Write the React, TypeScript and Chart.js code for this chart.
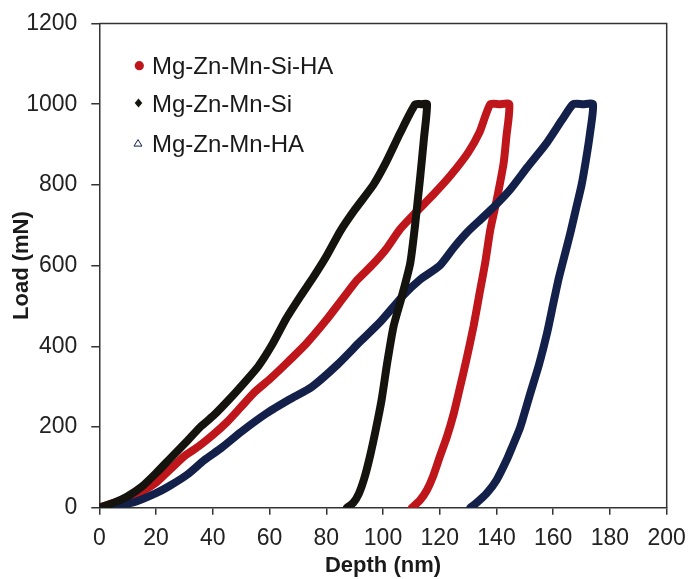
import React, { useEffect, useRef } from "react";
import { Chart, registerables } from "chart.js";

Chart.register(...registerables);

// X tick range / Y tick range
const xTicks = [0, 20, 40, 60, 80, 100, 120, 140, 160, 180, 200];
const yTicks = [0, 200, 400, 600, 800, 1000, 1200];

const seriesNames = ["Mg-Zn-Mn-Si-HA", "Mg-Zn-Mn-Si", "Mg-Zn-Mn-HA"];

// Mg-Zn-Mn-Si (black)
const siDepth = [0, 5, 9.7, 15, 20.2, 25, 30.8, 35.6, 40.2, 46, 52, 56, 61, 66, 71, 75.5, 80.2, 84.9, 90, 96.6, 101, 106, 111.4,
  113.5, 115.5,
  114.5, 113, 111.3, 109.6, 106.5, 103.7, 101.5, 99.5, 97.5, 95.5, 93.5, 91.5, 89.5, 87.3];
const siLoad = [0, 12, 27, 52, 87, 122, 164, 200, 228, 270, 317, 350, 405, 470, 525, 572, 625, 685, 738, 800, 855, 928, 1000,
  1000, 1000,
  920, 812, 700, 606, 520, 449, 360, 267, 195, 130, 75, 35, 12, 0];

// Mg-Zn-Mn-Si-HA (red)
const siHaDepth = [0, 5, 10, 15, 20, 25, 30, 35, 40, 45, 50, 55, 60, 66, 73, 80, 86, 91, 96, 101, 106, 112, 118, 124, 130, 134, 137.8,
  141, 144.5,
  143.5, 142.5, 140, 137.8, 136, 134, 131.9, 129.5, 127.2, 125, 122.5, 120.2, 117.5, 115.5, 113, 110.2];
const siHaLoad = [0, 12, 24, 40, 62, 95, 128, 152, 180, 212, 250, 288, 318, 358, 407, 465, 520, 565, 600, 640, 690, 735, 778, 825, 880, 930, 1000,
  1000, 1000,
  920, 853, 760, 688, 606, 530, 449, 370, 300, 235, 175, 130, 75, 44, 18, 0];

// Mg-Zn-Mn-HA (navy)
const haDepth = [0, 5, 12, 20, 25, 31, 37, 43, 50, 59, 67, 75, 84, 92, 99, 107, 113, 120, 125, 130, 135, 140, 145, 151, 157.8, 163, 167,
  170.5, 174,
  173, 171.5, 170, 168, 166, 164, 162, 160, 157.8, 155, 151.9, 148.4, 145.5, 143.7, 140, 136.6, 133, 130.8];
const haLoad = [0, 5, 13, 36, 55, 82, 118, 148, 188, 234, 268, 300, 355, 412, 460, 525, 565, 600, 645, 685, 718, 752, 790, 845, 905, 960, 1000,
  1000, 1000,
  930, 860, 800, 740, 680, 625, 570, 505, 432, 355, 283, 200, 150, 120, 68, 36, 12, 0];

const RED = "#BF161B";
const BLACK = "#15130E";
const NAVY = "#13214A";

const toPoints = (xs: number[], ys: number[]) => xs.map((x, i) => ({ x, y: ys[i] }));

const framePlugin = {
  id: "frame",
  afterDraw(chart: any) {
    const { ctx, chartArea } = chart;
    ctx.save();
    ctx.strokeStyle = "#333";
    ctx.lineWidth = 1.5;
    ctx.beginPath();
    ctx.moveTo(chartArea.left, chartArea.top);
    ctx.lineTo(chartArea.right, chartArea.top);
    ctx.lineTo(chartArea.right, chartArea.bottom);
    ctx.stroke();
    ctx.restore();
  },
};

const legendPlugin = {
  id: "customLegend",
  afterDraw(chart: any) {
    const { ctx } = chart;
    ctx.save();
    const textX = 152;
    const markerX = 138.5;
    const rows = [
      { y: 74, name: seriesNames[0], kind: "circle" },
      { y: 111.7, name: seriesNames[1], kind: "diamond" },
      { y: 151.7, name: seriesNames[2], kind: "triangle" },
    ];
    ctx.font = "24px 'Liberation Sans', Arial, sans-serif";
    ctx.textBaseline = "alphabetic";
    ctx.textAlign = "left";
    for (const r of rows) {
      const cy = r.y - 8.6;
      ctx.fillStyle = "#1a1a1a";
      ctx.fillText(r.name, textX, r.y);
      if (r.kind === "circle") {
        ctx.fillStyle = RED;
        ctx.beginPath();
        ctx.arc(markerX + 0.8, cy + 0.3, 4.6, 0, Math.PI * 2);
        ctx.fill();
      } else if (r.kind === "diamond") {
        ctx.fillStyle = BLACK;
        ctx.beginPath();
        ctx.moveTo(markerX, cy - 4.5);
        ctx.lineTo(markerX + 3.8, cy);
        ctx.lineTo(markerX, cy + 4.5);
        ctx.lineTo(markerX - 3.8, cy);
        ctx.closePath();
        ctx.fill();
      } else {
        ctx.strokeStyle = NAVY;
        ctx.lineWidth = 1;
        ctx.beginPath();
        ctx.moveTo(markerX - 0.5, cy - 3.5);
        ctx.lineTo(markerX + 3.5, cy + 3);
        ctx.lineTo(markerX - 4.5, cy + 3);
        ctx.closePath();
        ctx.stroke();
      }
    }
    ctx.restore();
  },
};

const clearPadding = (s: any) => {
  s.paddingTop = 0;
  s.paddingBottom = 0;
  s.paddingLeft = 0;
  s.paddingRight = 0;
};

export default function App() {
  const ref = useRef<HTMLCanvasElement | null>(null);

  useEffect(() => {
    if (!ref.current) return;
    const tickFont = { family: "'Liberation Sans', Arial, sans-serif", size: 23 };
    const titleFont = { family: "'Liberation Sans', Arial, sans-serif", size: 22, weight: "bold" as const };
    const lineCommon = {
      pointRadius: 0,
      borderWidth: 8,
      tension: 0.2,
      borderJoinStyle: "round" as const,
      borderCapStyle: "round" as const,
      fill: false,
    };
    const chart = new Chart(ref.current, {
      type: "line",
      data: {
        datasets: [
          { label: seriesNames[1], data: toPoints(siDepth, siLoad), borderColor: BLACK, ...lineCommon },
          { label: seriesNames[2], data: toPoints(haDepth, haLoad), borderColor: NAVY, ...lineCommon },
          { label: seriesNames[0], data: toPoints(siHaDepth, siHaLoad), borderColor: RED, ...lineCommon },
        ],
      },
      options: {
        responsive: false,
        animation: false,
        devicePixelRatio: 1,
        layout: { padding: { left: 0, right: 23.3, top: 23.5, bottom: 0 } },
        plugins: { legend: { display: false }, tooltip: { enabled: false } },
        scales: {
          x: {
            type: "linear",
            min: 0,
            max: 200,
            afterBuildTicks: (s: any) => { s.ticks = xTicks.map((v) => ({ value: v })); },
            afterFit: (s: any) => { s.height = 71.3; clearPadding(s); },
            ticks: { font: tickFont, color: "#222", padding: 10, maxRotation: 0, callback: (v: any) => String(v) },
            grid: { display: true, drawOnChartArea: false, drawTicks: true, tickLength: 7, color: "#333", lineWidth: 1.5 },
            border: { display: true, color: "#333", width: 1.5 },
            title: { display: true, text: "Depth (nm)", font: titleFont, color: "#1a1a1a", padding: { top: 0, bottom: 0 } },
          },
          y: {
            type: "linear",
            min: 0,
            max: 1200,
            afterBuildTicks: (s: any) => { s.ticks = yTicks.map((v) => ({ value: v })); },
            afterFit: (s: any) => { s.width = 99.3; clearPadding(s); },
            ticks: { font: tickFont, color: "#222", padding: 14, callback: (v: any) => String(v) },
            grid: { display: true, drawOnChartArea: false, drawTicks: true, tickLength: 8, color: "#333", lineWidth: 1.5 },
            border: { display: true, color: "#333", width: 1.5 },
            title: { display: true, text: "Load (mN)", font: titleFont, color: "#1a1a1a", padding: { top: 9, bottom: 0 } },
          },
        },
      },
      plugins: [framePlugin, legendPlugin],
    });
    return () => chart.destroy();
  }, []);

  return (
    <div style={{ position: "fixed", left: 0, top: 0, width: 690, height: 579, background: "#fff" }}>
      <canvas ref={ref} width={690} height={579} style={{ display: "block", width: 690, height: 579 }} />
    </div>
  );
}
